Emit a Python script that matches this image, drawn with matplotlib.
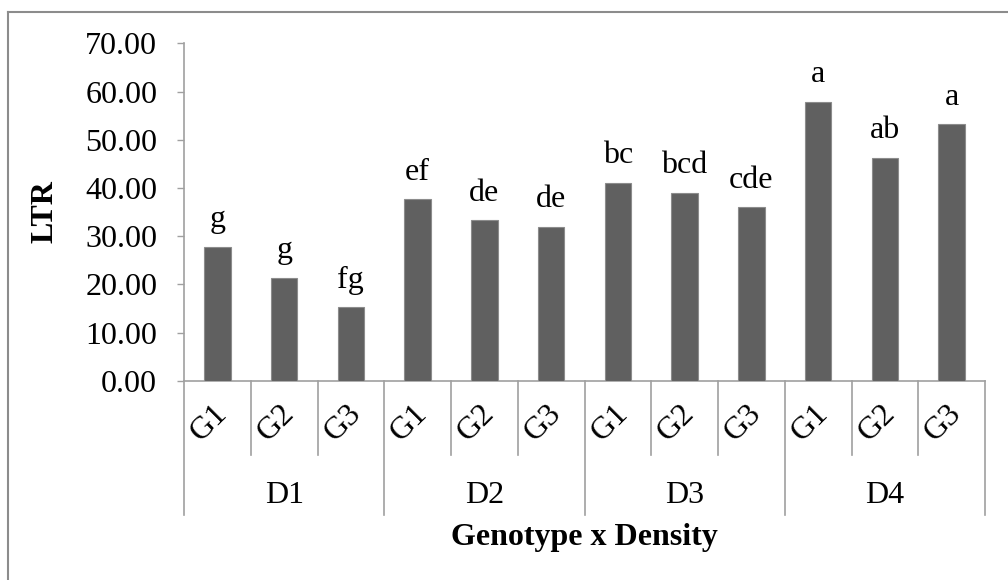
import matplotlib
matplotlib.use("Agg")
import matplotlib.pyplot as plt
import matplotlib.transforms as mtransforms
from matplotlib.lines import Line2D
import numpy as np

plt.rcParams['font.family'] = ['Liberation Serif', 'DejaVu Serif']

densities = ["D1", "D2", "D3", "D4"]
genotypes = ["G1", "G2", "G3"]
values = [27.8, 21.4, 15.2,
          37.7, 33.3, 31.9,
          41.1, 39.0, 36.0,
          57.9, 46.3, 53.2]
letters = ["g", "g", "fg",
           "ef", "de", "de",
           "bc", "bcd", "cde",
           "a", "ab", "a"]
y_ticks = [0, 10, 20, 30, 40, 50, 60, 70]

fs = 23
fig = plt.figure(figsize=(10.08, 5.8), dpi=100)
ax = fig.add_axes([184/1008, 1-380.7/580, (985-184)/1008, (380.7-43.3)/580])

n_g = len(genotypes)
n = len(values)
x = np.arange(n)
ax.bar(x, values, width=0.4, color='#606060', edgecolor='#8c8c8c', linewidth=0.8, zorder=3)

for xi, v, lab in zip(x, values, letters):
    ax.annotate(lab, (xi, v), xytext=(0, 14), textcoords='offset points',
                ha='center', va='baseline', fontsize=fs)

ax.set_xlim(-0.5, n - 0.5)
ax.set_ylim(y_ticks[0], y_ticks[-1])
ax.set_yticks(y_ticks)
ax.set_yticklabels([f"{t:.2f}" for t in y_ticks], fontsize=fs)
ax.tick_params(axis='y', length=5.3, width=1, color='#a0a0a0', pad=14)
ax.set_xticks([])

for s in ['top', 'right']:
    ax.spines[s].set_visible(False)
for s in ['left', 'bottom']:
    ax.spines[s].set_color('#a0a0a0')
    ax.spines[s].set_linewidth(1.2)

trans = mtransforms.blended_transform_factory(ax.transData, ax.transAxes)
# separators between genotype slots and density groups
for b in np.arange(n + 1) - 0.5:
    if int(b + 0.5) % n_g == 0:
        ax.plot([b, b], [0, -0.398], color='#a0a0a0', lw=1.2, transform=trans, clip_on=False)
    else:
        ax.plot([b, b], [0, -0.220], color='#a0a0a0', lw=1.2, transform=trans, clip_on=False)

# genotype labels
for i in range(n):
    ax.text(i - 0.12, -0.125, genotypes[i % n_g], rotation=45, ha='center', va='center',
            fontsize=fs, transform=trans)

# density labels
for j, d in enumerate(densities):
    ax.text(j * n_g + (n_g - 1) / 2, -0.339, d, ha='center', va='center',
            fontsize=fs, transform=trans)

ax.text(0.5, -0.466, "Genotype x Density", ha='center', va='center', fontsize=fs,
        fontweight='bold', transform=ax.transAxes)
ax.set_ylabel("LTR", fontsize=fs, fontweight='bold')
ax.yaxis.set_label_coords(-0.155, 0.5)

# outer frame (left and top)
fx = 8/1008
fy = 1 - 12/580
fig.add_artist(Line2D([fx, fx], [0, fy], color='#8c8c8c', lw=1.5, transform=fig.transFigure))
fig.add_artist(Line2D([fx, 1], [fy, fy], color='#8c8c8c', lw=1.5, transform=fig.transFigure))

fig.savefig("out.png", dpi=100, facecolor='white')
